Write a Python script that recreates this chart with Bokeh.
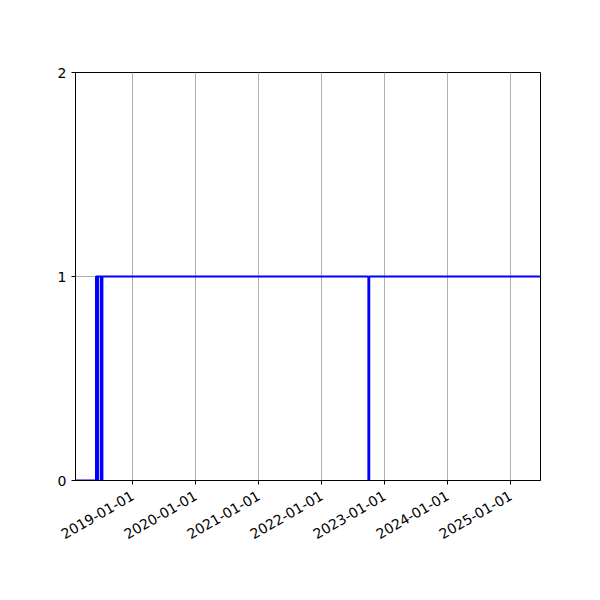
import pandas as pd
from math import pi
from bokeh.plotting import figure
from bokeh.models import Range1d, FixedTicker, DatetimeTickFormatter
from bokeh.embed import file_html
from bokeh.resources import INLINE

# step data (value holds until next date)
dates = ["2018-02-03", "2018-06-02", "2018-06-05", "2018-06-08", "2018-06-11",
         "2018-06-14", "2018-06-30", "2018-07-03", "2018-07-06", "2018-07-09",
         "2022-09-28", "2022-10-03", "2025-06-22"]
values = [0, 1, 0, 1, 0, 1, 0, 1, 0, 1, 0, 1, 1]
tick_dates = ["2019-01-01", "2020-01-01", "2021-01-01", "2022-01-01",
              "2023-01-01", "2024-01-01", "2025-01-01"]
y_ticks = [0, 1, 2]

x = pd.to_datetime(dates)
ticks_ms = [pd.Timestamp(d).value / 1e6 for d in tick_dates]

p = figure(width=584, height=584, x_axis_type="datetime",
           output_backend="svg", toolbar_location=None,
           x_range=Range1d(x[0], x[-1]), y_range=Range1d(0, 2),
           min_border_left=75, min_border_right=44,
           min_border_top=72, min_border_bottom=104)

p.step(x, values, mode="after", line_color="blue", line_width=2)

p.xaxis.ticker = FixedTicker(ticks=ticks_ms)
fmt = "%Y-%m-%d"
p.xaxis.formatter = DatetimeTickFormatter(
    years=fmt, months=fmt, days=fmt, hours=fmt, hourmin=fmt,
    minutes=fmt, minsec=fmt, seconds=fmt, milliseconds=fmt,
    microseconds=fmt)
p.xaxis.major_label_orientation = pi / 6
p.yaxis.ticker = FixedTicker(ticks=y_ticks)

for ax in (p.xaxis, p.yaxis):
    ax.major_tick_in = 0
    ax.major_tick_out = 4
    ax.minor_tick_in = 0
    ax.minor_tick_out = 0
    ax.axis_line_color = "black"
    ax.major_tick_line_color = "black"
    ax.major_label_text_font = "DejaVu Sans"
    ax.major_label_text_font_size = "14px"
    ax.major_label_text_color = "black"
p.xaxis.major_label_standoff = 10
p.yaxis.major_label_standoff = 5

p.xgrid.grid_line_color = "#b0b0b0"
p.ygrid.grid_line_color = "#b0b0b0"
p.xgrid.grid_line_width = 1
p.ygrid.grid_line_width = 1

p.outline_line_color = "black"
p.outline_line_width = 1
p.outline_line_alpha = 1
p.background_fill_color = "white"
p.border_fill_color = "white"

open("out.html", "w").write(file_html(p, INLINE))
